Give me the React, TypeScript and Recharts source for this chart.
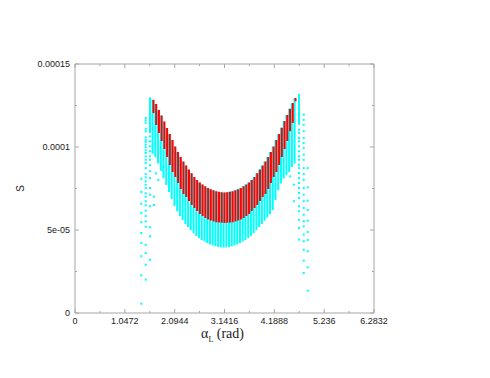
import { ComposedChart, Line, Scatter, XAxis, YAxis } from "recharts"

// all S values below are in units of 1e-5
const SCALE = 1e-5

// red columns (one per alpha sample)
const columnX = [
  1.6492, 1.7066, 1.764, 1.8214, 1.8788, 1.9362, 1.9936, 2.051, 2.1084, 2.1658, 2.2232, 2.2806, 2.338,
  2.3954, 2.4528, 2.5102, 2.5676, 2.625, 2.6824, 2.7398, 2.7972, 2.8546, 2.912, 2.9694, 3.0268, 3.0842,
  3.1416, 3.199, 3.2564, 3.3138, 3.3712, 3.4286, 3.486, 3.5434, 3.6008, 3.6582, 3.7156, 3.773, 3.8304,
  3.8878, 3.9452, 4.0026, 4.06, 4.1174, 4.1748, 4.2322, 4.2896, 4.347, 4.4044, 4.4618, 4.5192, 4.5766, 4.634,
]
const redLo = [
  12.05, 11.33, 10.84, 10.36, 9.88, 9.4, 8.92, 8.49, 8.19, 7.83, 7.47, 7.17, 6.99, 6.75, 6.51, 6.33, 6.14,
  5.96, 5.84, 5.72, 5.63, 5.57, 5.51, 5.47, 5.45, 5.43, 5.42, 5.43, 5.45, 5.47, 5.51, 5.57, 5.63, 5.72, 5.84,
  5.96, 6.14, 6.33, 6.51, 6.75, 6.99, 7.17, 7.47, 7.83, 8.19, 8.49, 8.92, 9.4, 9.88, 10.36, 10.95, 11.45, 12.75,
]
const redHi = [
  12.85, 12.59, 12.23, 11.9, 11.54, 11.14, 10.78, 10.42, 10.03, 9.7, 9.4, 9.13, 8.89, 8.64, 8.42, 8.19, 8.01,
  7.86, 7.74, 7.63, 7.53, 7.45, 7.39, 7.34, 7.3, 7.27, 7.26, 7.27, 7.3, 7.34, 7.39, 7.45, 7.53, 7.63, 7.74,
  7.86, 8.01, 8.19, 8.42, 8.64, 8.89, 9.13, 9.4, 9.7, 10.03, 10.42, 10.78, 11.16, 11.56, 11.93, 12.3, 12.65, 12.95,
]

// cyan columns sit just left of the red ones and reach lower
const cyanX = [
  1.6302, 1.6876, 1.745, 1.8024, 1.8598, 1.9172, 1.9746, 2.032, 2.0894, 2.1468, 2.2042, 2.2616, 2.319,
  2.3764, 2.4338, 2.4912, 2.5486, 2.606, 2.6634, 2.7208, 2.7782, 2.8356, 2.893, 2.9504, 3.0078, 3.0652,
  3.1226, 3.18, 3.2374, 3.2948, 3.3522, 3.4096, 3.467, 3.5244, 3.5818, 3.6392, 3.6966, 3.754, 3.8114,
  3.8688, 3.9262, 3.9836, 4.041, 4.0984, 4.1558, 4.2132, 4.2706, 4.328, 4.3854, 4.4428, 4.5002, 4.5576, 4.615,
]
const cyanLo = [
  9.6, 9.4, 9.0, 8.6, 8.13, 7.71, 7.29, 6.87, 6.45, 6.14, 5.84, 5.6, 5.36, 5.18, 5.0, 4.82, 4.64, 4.52, 4.4,
  4.31, 4.22, 4.13, 4.07, 4.02, 3.98, 3.96, 3.95, 3.96, 3.98, 4.02, 4.07, 4.13, 4.22, 4.31, 4.4, 4.52, 4.64,
  4.82, 5.0, 5.18, 5.36, 5.55, 5.75, 5.95, 6.2, 6.8, 7.4, 7.8, 8.1, 8.3, 8.5, 8.8, 9.0,
]
const cyanHi = redHi

// solid cyan columns just outside the red band
const edgeX = [1.576, 4.707]
const edgeLo = [10.84, 11.34]
const edgeHi = [12.99, 13.19]

// sparse cyan dots at both ends
const dotColumnX = [1.393, 1.486, 1.576, 4.707, 4.806, 4.89]
const dotColumnY = [
  [8.09, 7.29, 6.58, 6.02, 5.48, 4.82, 4.22, 3.42, 2.27, 0.56],
  [11.75, 11.61, 11.46, 11.1, 10.95, 10.58, 10.44, 10.3, 10.14, 9.98, 9.8, 9.64, 9.44, 9.23, 9.04, 8.73, 8.37,
    8.17, 7.93, 7.73, 7.53, 7.21, 7.01, 6.73, 6.49, 6.16, 5.84, 5.52, 5.2, 4.11, 3.61, 2.91, 2.01],
  [10.64, 10.34, 10.04, 9.74, 9.44, 9.23, 8.9, 8.54, 8.13, 7.53, 7.13, 6.43, 5.16, 4.62, 3.21],
  [11.04, 10.84, 10.54, 10.34, 10.04, 9.74, 9.44, 9.23, 8.93, 8.73, 8.43, 8.13, 7.83, 7.53, 7.23, 6.93, 6.43,
    6.13, 5.62, 5.12, 4.42],
  [11.95, 11.64, 11.34, 10.95, 10.54, 10.24, 9.94, 9.54, 9.23, 8.73, 8.37, 8.03, 7.53, 7.13, 6.73, 6.33, 5.92,
    5.52, 5.22, 4.72, 4.32, 3.81, 3.15, 2.41],
  [8.73, 7.57, 6.77, 6.2, 5.56, 4.88, 4.4, 3.72, 2.75, 1.34],
]
const strayX = [1.66, 1.66, 1.7, 1.751, 1.82, 1.856, 4.52, 4.6, 4.6]
const strayY = [7.01, 6.51, 8.41, 8.01, 8.61, 8.81, 8.23, 7.73, 6.73]

const xTicks = [0, 0.5236, 1.0472, 1.5708, 2.0944, 2.618, 3.1416, 3.6652, 4.1888, 4.7124, 5.236, 5.7596, 6.2832]
const xTickLabels = ["0", "1.0472", "2.0944", "3.1416", "4.1888", "5.236", "6.2832"]
const yTicks = [0, 2.5e-5, 5e-5, 7.5e-5, 1e-4, 1.25e-4, 1.5e-4]
const yTickLabels = ["0", "5e-05", "0.0001", "0.00015"]

const FRAME = "#a6a6a6"
const SANS = "Liberation Sans, Arial, sans-serif"

// vertical segments separated by nulls so the line breaks between columns
function segments(xs: number[], lo: number[], hi: number[]) {
  const rows: { x: number; y: number | null }[] = []
  xs.forEach((x, i) => {
    rows.push({ x, y: lo[i] * SCALE }, { x, y: hi[i] * SCALE }, { x, y: null })
  })
  return rows
}

const redRows = segments(columnX, redLo, redHi)
const cyanRows = [...segments(cyanX, cyanLo, cyanHi), ...segments(edgeX, edgeLo, edgeHi)]
const dotRows = [
  ...dotColumnX.flatMap((x, i) => dotColumnY[i].map((v) => ({ x, y: v * SCALE }))),
  ...strayX.map((x, i) => ({ x, y: strayY[i] * SCALE })),
]

function BottomTick(props: any) {
  const { x, y, index } = props
  const major = index % 2 === 0
  return (
    <g>
      <line x1={x} y1={y} x2={x} y2={y - (major ? 4 : 2)} stroke={FRAME} />
      {major && (
        <text x={x} y={y + 11} textAnchor="middle" fontSize={9} fontFamily={SANS} fill="#222">
          {xTickLabels[index / 2]}
        </text>
      )}
    </g>
  )
}

function TopTick(props: any) {
  const { x, y, index } = props
  return <line x1={x} y1={y} x2={x} y2={y + (index % 2 === 0 ? 4 : 2)} stroke={FRAME} />
}

function LeftTick(props: any) {
  const { x, y, index } = props
  const major = index % 2 === 0
  return (
    <g>
      <line x1={x} y1={y} x2={x + (major ? 4 : 2)} y2={y} stroke={FRAME} />
      {major && (
        <text x={x - 5} y={y + 3} textAnchor="end" fontSize={9} fontFamily={SANS} fill="#222">
          {yTickLabels[index / 2]}
        </text>
      )}
    </g>
  )
}

function RightTick(props: any) {
  const { x, y, index } = props
  return <line x1={x} y1={y} x2={x - (index % 2 === 0 ? 4 : 2)} y2={y} stroke={FRAME} />
}

function XLabel(props: any) {
  const vb = props.viewBox ?? { x: 67, y: 305, width: 299, height: 40 }
  return (
    <text
      x={vb.x + vb.width / 2 - 2}
      y={vb.y + 25}
      textAnchor="middle"
      fontSize={14}
      fontFamily="Liberation Serif, Times New Roman, serif"
      fill="#222"
    >
      α<tspan fontSize={8} dy={4}>L</tspan>
      <tspan dy={-4}> (rad)</tspan>
    </text>
  )
}

function YLabel(props: any) {
  const vb = props.viewBox ?? { x: 7, y: 56, width: 60, height: 249 }
  const cx = vb.x + 9
  const cy = vb.y + vb.height / 2
  return (
    <text x={cx} y={cy} transform={`rotate(-90 ${cx} ${cy})`} textAnchor="middle" fontSize={10} fontFamily={SANS} fill="#222">
      S
    </text>
  )
}

const Dot = (props: any) => <rect x={props.cx - 1} y={props.cy - 1} width={2} height={2} fill="#00ffff" />

export default function App() {
  return (
    <div style={{ width: 482, height: 370 }}>
      <ComposedChart width={482} height={370} margin={{ top: 46, right: 106, bottom: 25, left: 7 }}>
        <XAxis
          type="number"
          dataKey="x"
          domain={[0, 6.2832]}
          ticks={xTicks}
          interval={0}
          height={40}
          stroke={FRAME}
          tickLine={false}
          tickSize={0}
          tickMargin={0}
          tick={<BottomTick />}
          label={<XLabel />}
          allowDataOverflow
        />
        <XAxis
          xAxisId="top"
          orientation="top"
          type="number"
          dataKey="x"
          domain={[0, 6.2832]}
          ticks={xTicks}
          interval={0}
          height={10}
          stroke={FRAME}
          tickLine={false}
          tickSize={0}
          tickMargin={0}
          tick={<TopTick />}
          allowDataOverflow
        />
        <YAxis
          type="number"
          domain={[0, 1.5e-4]}
          ticks={yTicks}
          interval={0}
          width={60}
          stroke={FRAME}
          tickLine={false}
          tickSize={0}
          tickMargin={0}
          tick={<LeftTick />}
          label={<YLabel />}
          allowDataOverflow
        />
        <YAxis
          yAxisId="right"
          orientation="right"
          type="number"
          domain={[0, 1.5e-4]}
          ticks={yTicks}
          interval={0}
          width={10}
          stroke={FRAME}
          tickLine={false}
          tickSize={0}
          tickMargin={0}
          tick={<RightTick />}
          allowDataOverflow
        />
        <Line
          data={cyanRows}
          dataKey="y"
          type="linear"
          stroke="#00ffff"
          strokeWidth={2}
          dot={false}
          activeDot={false}
          legendType="none"
          isAnimationActive={false}
        />
        <Line
          data={redRows}
          dataKey="y"
          type="linear"
          stroke="#ff0000"
          strokeWidth={2}
          dot={false}
          activeDot={false}
          legendType="none"
          isAnimationActive={false}
        />
        <Scatter data={dotRows} dataKey="y" shape={<Dot />} isAnimationActive={false} />
      </ComposedChart>
    </div>
  )
}
